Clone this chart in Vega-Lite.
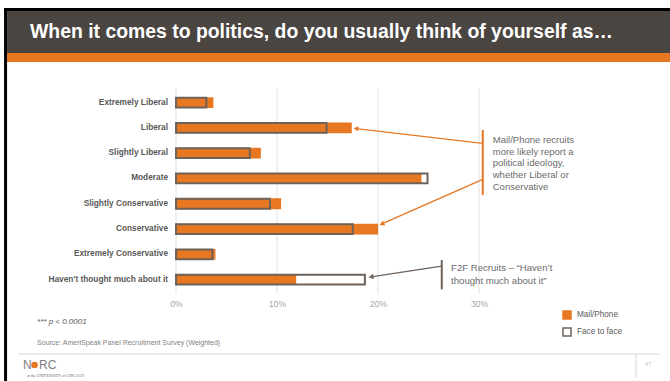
{
  "$schema": "https://vega.github.io/schema/vega-lite/v6.json",
  "width": 670,
  "height": 381,
  "autosize": {"type": "none"},
  "padding": 0,
  "background": "white",
  "config": {
    "font": "Liberation Sans",
    "view": {"stroke": null},
    "axisY": {"disable": true},
    "axisX": {"grid": false, "domain": false, "ticks": false, "labelPadding": 0, "offset": -82, "labelFontSize": 8.5, "labelColor": "#a6a6a6", "labelFont": "Liberation Sans"}
  },
  "data": {
    "values": [
      {"category": "Extremely Liberal", "series": "Mail/Phone", "pct": 3.7},
      {"category": "Liberal", "series": "Mail/Phone", "pct": 17.4},
      {"category": "Slightly Liberal", "series": "Mail/Phone", "pct": 8.4},
      {"category": "Moderate", "series": "Mail/Phone", "pct": 24.3},
      {"category": "Slightly Conservative", "series": "Mail/Phone", "pct": 10.4},
      {"category": "Conservative", "series": "Mail/Phone", "pct": 20.0},
      {"category": "Extremely Conservative", "series": "Mail/Phone", "pct": 3.9},
      {"category": "Haven't thought much about it", "series": "Mail/Phone", "pct": 11.9},
      {"category": "Extremely Liberal", "series": "Face to face", "pct": 3.0},
      {"category": "Liberal", "series": "Face to face", "pct": 14.9},
      {"category": "Slightly Liberal", "series": "Face to face", "pct": 7.3},
      {"category": "Moderate", "series": "Face to face", "pct": 24.9},
      {"category": "Slightly Conservative", "series": "Face to face", "pct": 9.3},
      {"category": "Conservative", "series": "Face to face", "pct": 17.5},
      {"category": "Extremely Conservative", "series": "Face to face", "pct": 3.6},
      {"category": "Haven't thought much about it", "series": "Face to face", "pct": 18.7}
    ]
  },
  "layer": [
    {
      "data": {"values": [{}]},
      "mark": {"type": "rule", "color": "#4a4541", "strokeWidth": 42, "yOffset": -70.5},
      "encoding": {"x": {"datum": -16.73}, "x2": {"datum": 48.91}, "y": {"datum": "Extremely Liberal"}}
    },
    {
      "data": {"values": [{}]},
      "mark": {"type": "rule", "color": "#e87722", "strokeWidth": 9, "yOffset": -45},
      "encoding": {"x": {"datum": -16.73}, "x2": {"datum": 48.91}, "y": {"datum": "Extremely Liberal"}}
    },
    {
      "data": {"values": [{}]},
      "mark": {"type": "rule", "color": "#000000", "strokeWidth": 3, "yOffset": -93},
      "encoding": {"x": {"datum": -17.03}, "x2": {"datum": 48.91}, "y": {"datum": "Extremely Liberal"}}
    },
    {
      "data": {"values": [{}]},
      "mark": {"type": "rule", "color": "#000000", "strokeWidth": 3, "yOffset": -94.5, "y2Offset": 101.4},
      "encoding": {"x": {"datum": -16.88}, "y": {"datum": "Extremely Liberal"}, "y2": {"datum": "Haven't thought much about it"}}
    },
    {
      "data": {"values": [{}]},
      "mark": {"type": "text", "align": "left", "baseline": "alphabetic", "fontSize": 19.4, "fontWeight": "bold", "color": "#ffffff", "yOffset": -64.5},
      "encoding": {"x": {"datum": -14.46}, "y": {"datum": "Extremely Liberal"}, "text": {"value": "When it comes to politics, do you usually think of yourself as…"}}
    },
    {
      "data": {"values": [{"v": 0}, {"v": 10}, {"v": 20}, {"v": 30}]},
      "mark": {"type": "rule", "color": "#e2e2e2", "strokeWidth": 1, "yOffset": -14.5, "y2Offset": 14},
      "encoding": {"x": {"field": "v", "type": "quantitative", "title": null}, "y": {"datum": "Extremely Liberal"}, "y2": {"datum": "Haven't thought much about it"}}
    },
    {
      "transform": [{"filter": "datum.series === 'Mail/Phone'"}],
      "mark": {"type": "bar", "strokeWidth": 0},
      "encoding": {
        "y": {"field": "category", "type": "nominal", "title": null, "scale": {"domain": ["Extremely Liberal", "Liberal", "Slightly Liberal", "Moderate", "Slightly Conservative", "Conservative", "Extremely Conservative", "Haven't thought much about it"], "range": [97.13, 285.03], "paddingInner": 0.573, "paddingOuter": 0}},
        "x": {"field": "pct", "type": "quantitative", "title": null, "scale": {"domain": [-17.43, 48.91], "nice": false, "zero": false}, "axis": {"values": [0, 10, 20, 30], "labelExpr": "datum.value + '%'", "title": null}},
        "x2": {"datum": 0},
        "fill": {"field": "series", "type": "nominal", "scale": {"domain": ["Mail/Phone", "Face to face"], "range": ["#e87722", "transparent"]}, "legend": {"title": null, "orient": "none", "legendX": 562, "legendY": 310, "symbolType": "square", "symbolSize": 64, "symbolStrokeWidth": 1.5, "labelFontSize": 8.2, "labelColor": "#595959", "rowPadding": 3, "labelOffset": 5, "padding": 0}},
        "stroke": {"field": "series", "type": "nominal", "scale": {"domain": ["Mail/Phone", "Face to face"], "range": ["#e87722", "#6e6259"]}, "legend": {"title": null, "orient": "none", "legendX": 562, "legendY": 310, "symbolType": "square", "symbolSize": 64, "symbolStrokeWidth": 1.5, "labelFontSize": 8.2, "labelColor": "#595959", "rowPadding": 3, "labelOffset": 5, "padding": 0}}
      }
    },
    {
      "transform": [{"filter": "datum.series === 'Face to face'"}],
      "mark": {"type": "bar", "strokeWidth": 2, "height": 9.8},
      "encoding": {
        "y": {"field": "category", "type": "nominal", "title": null},
        "x": {"field": "pct", "type": "quantitative", "title": null},
        "x2": {"datum": 0},
        "fill": {"field": "series", "type": "nominal"},
        "stroke": {"field": "series", "type": "nominal"}
      }
    },
    {
      "transform": [{"filter": "datum.series === 'Mail/Phone'"}],
      "mark": {"type": "text", "align": "right", "baseline": "middle", "xOffset": -8, "fontSize": 8.3, "fontWeight": "bold", "color": "#595959"},
      "encoding": {
        "y": {"field": "category", "type": "nominal", "title": null},
        "x": {"datum": 0},
        "text": {"field": "category"}
      }
    },
    {
      "data": {"values": [{}]},
      "mark": {"type": "rule", "color": "#e87722", "strokeWidth": 2, "yOffset": 2.2, "y2Offset": -8.7},
      "encoding": {"x": {"datum": 30.37}, "y": {"datum": "Liberal"}, "y2": {"datum": "Slightly Conservative"}}
    },
    {
      "data": {"values": [{}]},
      "mark": {"type": "rule", "color": "#e87722", "strokeWidth": 1.3, "yOffset": -9.8, "y2Offset": 0.8},
      "encoding": {"x": {"datum": 30.37}, "x2": {"datum": 17.82}, "y": {"datum": "Slightly Liberal"}, "y2": {"datum": "Liberal"}}
    },
    {
      "data": {"values": [{}]},
      "mark": {"type": "point", "shape": "triangle-left", "filled": true, "size": 30, "angle": 6.6, "color": "#e87722", "opacity": 1, "yOffset": 0.8},
      "encoding": {"x": {"datum": 17.82}, "y": {"datum": "Liberal"}}
    },
    {
      "data": {"values": [{}]},
      "mark": {"type": "rule", "color": "#e87722", "strokeWidth": 1.3, "yOffset": 0.9, "y2Offset": -5.1},
      "encoding": {"x": {"datum": 30.37}, "x2": {"datum": 20.38}, "y": {"datum": "Moderate"}, "y2": {"datum": "Conservative"}}
    },
    {
      "data": {"values": [{}]},
      "mark": {"type": "point", "shape": "triangle-left", "filled": true, "size": 30, "angle": 336.2, "color": "#e87722", "opacity": 1, "yOffset": -5.1},
      "encoding": {"x": {"datum": 20.38}, "y": {"datum": "Conservative"}}
    },
    {
      "data": {"values": [{}]},
      "mark": {"type": "rule", "color": "#6e6259", "strokeWidth": 2, "yOffset": -19.6, "y2Offset": 9.7},
      "encoding": {"x": {"datum": 26.31}, "y": {"datum": "Haven't thought much about it"}, "y2": {"datum": "Haven't thought much about it"}}
    },
    {
      "data": {"values": [{}]},
      "mark": {"type": "rule", "color": "#6e6259", "strokeWidth": 1.3, "yOffset": -13.6, "y2Offset": -2.7},
      "encoding": {"x": {"datum": 26.31}, "x2": {"datum": 19.31}, "y": {"datum": "Haven't thought much about it"}, "y2": {"datum": "Haven't thought much about it"}}
    },
    {
      "data": {"values": [{}]},
      "mark": {"type": "point", "shape": "triangle-left", "filled": true, "size": 30, "angle": 351.25, "color": "#6e6259", "opacity": 1, "yOffset": -2.7},
      "encoding": {"x": {"datum": 19.31}, "y": {"datum": "Haven't thought much about it"}}
    },
    {
      "data": {"values": [{}]},
      "mark": {"type": "text", "align": "left", "baseline": "middle", "fontSize": 9.5, "lineHeight": 11.7, "color": "#6b6b6b", "yOffset": -38.4},
      "encoding": {"x": {"datum": 31.36}, "y": {"datum": "Moderate"}, "text": {"value": ["Mail/Phone recruits", "more likely report a", "political ideology,", "whether Liberal or", "Conservative"]}}
    },
    {
      "data": {"values": [{}]},
      "mark": {"type": "text", "align": "left", "baseline": "middle", "fontSize": 9.6, "lineHeight": 12.5, "color": "#6b6b6b", "yOffset": -11.6},
      "encoding": {"x": {"datum": 27.23}, "y": {"datum": "Haven't thought much about it"}, "text": {"value": ["F2F Recruits – “Haven’t", "thought much about it”"]}}
    },
    {
      "data": {"values": [{}]},
      "mark": {"type": "text", "align": "left", "baseline": "middle", "fontSize": 8, "fontStyle": "italic", "color": "#595959", "yOffset": 42.1},
      "encoding": {"x": {"datum": -13.76}, "y": {"datum": "Haven't thought much about it"}, "text": {"value": "*** p < 0.0001"}}
    },
    {
      "data": {"values": [{}]},
      "mark": {"type": "text", "align": "left", "baseline": "middle", "fontSize": 7, "color": "#7f7f7f", "yOffset": 63.7},
      "encoding": {"x": {"datum": -13.76}, "y": {"datum": "Haven't thought much about it"}, "text": {"value": "Source: AmeriSpeak Panel Recruitment Survey (Weighted)"}}
    },
    {
      "data": {"values": [{}]},
      "mark": {"type": "rule", "color": "#d9d9d9", "strokeWidth": 1, "yOffset": 74.4},
      "encoding": {"x": {"datum": -15.64}, "x2": {"datum": 47.92}, "y": {"datum": "Haven't thought much about it"}}
    },
    {
      "data": {"values": [{}]},
      "mark": {"type": "rule", "color": "#d9d9d9", "strokeWidth": 1, "yOffset": 74.4, "y2Offset": 98.4},
      "encoding": {"x": {"datum": 45.54}, "y": {"datum": "Haven't thought much about it"}, "y2": {"datum": "Haven't thought much about it"}}
    },
    {
      "data": {"values": [{}]},
      "mark": {"type": "text", "align": "center", "baseline": "middle", "fontSize": 6, "color": "#bfbfbf", "yOffset": 84.4},
      "encoding": {"x": {"datum": 46.73}, "y": {"datum": "Haven't thought much about it"}, "text": {"value": "47"}}
    },
    {
      "data": {"values": [{}]},
      "mark": {"type": "text", "align": "left", "baseline": "alphabetic", "fontSize": 12, "color": "#808080", "yOffset": 89.7},
      "encoding": {"x": {"datum": -15.15}, "y": {"datum": "Haven't thought much about it"}, "text": {"value": "N"}}
    },
    {
      "data": {"values": [{}]},
      "mark": {"type": "text", "align": "left", "baseline": "alphabetic", "fontSize": 12, "color": "#808080", "yOffset": 89.7},
      "encoding": {"x": {"datum": -13.56}, "y": {"datum": "Haven't thought much about it"}, "text": {"value": "RC"}}
    },
    {
      "data": {"values": [{}]},
      "mark": {"type": "point", "shape": "circle", "filled": true, "size": 44, "color": "#e87722", "opacity": 1, "yOffset": 85.4},
      "encoding": {"x": {"datum": -14.01}, "y": {"datum": "Haven't thought much about it"}}
    },
    {
      "data": {"values": [{}]},
      "mark": {"type": "text", "align": "left", "baseline": "middle", "fontSize": 4, "font": "Liberation Serif", "color": "#666666", "yOffset": 96.1},
      "encoding": {"x": {"datum": -14.75}, "y": {"datum": "Haven't thought much about it"}, "text": {"value": "at the UNIVERSITY of CHICAGO"}}
    }
  ]
}
